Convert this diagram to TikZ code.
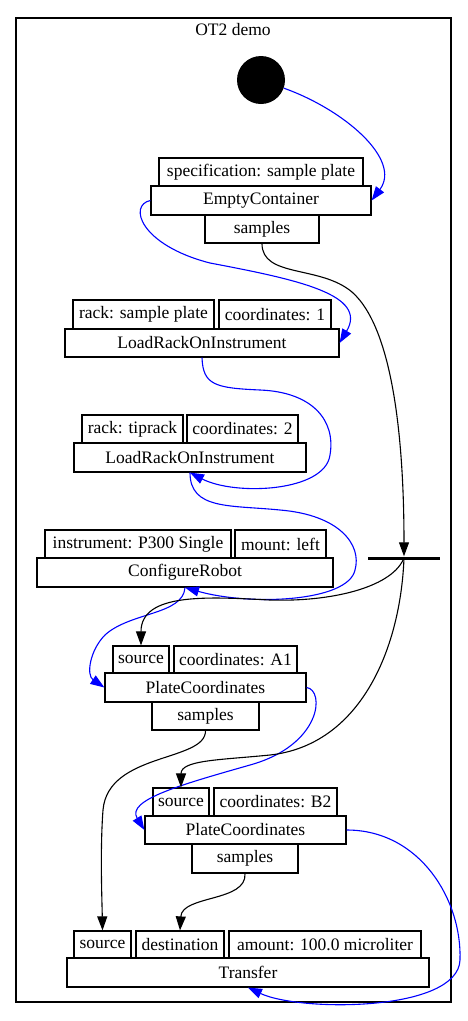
\documentclass[tikz,border=0pt]{standalone}
\usepackage{fontspec}
\setmainfont{Liberation Serif}
\usetikzlibrary{arrows.meta}
\tikzset{
	box/.style={draw, line width=1.2pt, inner sep=0pt, minimum height=28pt, font=\fontsize{17.5}{20}\selectfont},
	flow/.style={draw=blue, line width=1.1pt},
	data/.style={draw=black, line width=1.1pt},
}
\begin{document}
\begin{tikzpicture}[>={Triangle[length=14pt,width=10pt]}, x=1pt, y=-1pt]
		\useasboundingbox (0,0) rectangle (467,1021);
		% Khung ngoai
		\draw[line width=1.2pt] (16,18) rectangle (451,1002);
		\node[font=\fontsize{17.5}{20}\selectfont] (title) at (233,30) {OT2 demo};
		
		% Diem bat dau
		\node[circle, fill=black, minimum size=48pt, inner sep=0pt] (start) at (261,80) {};
		
		% EmptyContainer
		\node[box, minimum width=204pt] (spec) at (261,172) {specification: sample plate};
		\node[box, minimum width=220pt, minimum height=29pt] (empty) at (261,200.5) {EmptyContainer};
		\node[box, minimum width=114pt] (samp1) at (262,229) {samples};
		
		% LoadRackOnInstrument (1)
		\node[box, minimum width=141pt, minimum height=29pt] (rack1) at (143.5,314.5) {rack: sample plate};
		\node[box, minimum width=112pt, minimum height=29pt] (coord1) at (275,314.5) {coordinates: 1};
		\node[box, minimum width=274pt] (load1) at (202,343) {LoadRackOnInstrument};
		
		% LoadRackOnInstrument (2)
		\node[box, minimum width=101pt] (rack2) at (132.5,429) {rack: tiprack};
		\node[box, minimum width=111pt] (coord2) at (242.5,429) {coordinates: 2};
		\node[box, minimum width=232pt, minimum height=29pt] (load2) at (190,457.5) {LoadRackOnInstrument};
		
		% ConfigureRobot
		\node[box, minimum width=186pt] (instr) at (138,544) {instrument: P300 Single};
		\node[box, minimum width=91pt] (mount) at (280.5,544) {mount: left};
		\node[box, minimum width=296pt, minimum height=29pt] (config) at (185,572.5) {ConfigureRobot};
		
		% Thanh re nhanh
		\node[fill=black, minimum width=72pt, minimum height=3pt, inner sep=0pt] (fork) at (404,558) {};
		
		% PlateCoordinates A1
		\node[box, minimum width=56pt, minimum height=27pt] (srcA) at (141,659.5) {source};
		\node[box, minimum width=123pt, minimum height=27pt] (coordA) at (235.5,659.5) {coordinates: A1};
		\node[box, minimum width=201pt, minimum height=29pt] (plateA) at (205.5,687.5) {PlateCoordinates};
		\node[box, minimum width=107pt] (sampA) at (205.5,716) {samples};
		
		% PlateCoordinates B2
		\node[box, minimum width=56pt] (srcB) at (181,802) {source};
		\node[box, minimum width=123pt] (coordB) at (275.5,802) {coordinates: B2};
		\node[box, minimum width=201pt] (plateB) at (245.5,830) {PlateCoordinates};
		\node[box, minimum width=106pt, minimum height=29pt] (sampB) at (245,858.5) {samples};
		
		% Transfer
		\node[box, minimum width=57pt, minimum height=27pt] (tsrc) at (102.5,944.5) {source};
		\node[box, minimum width=88pt, minimum height=27pt] (tdest) at (180,944.5) {destination};
		\node[box, minimum width=192pt, minimum height=27pt] (tamt) at (325,944.5) {amount: 100.0 microliter};
		\node[box, minimum width=362pt, minimum height=29pt] (transfer) at (248,972.5) {Transfer};
		
		% Luong dieu khien (xanh)
		\draw[flow, ->] (start) .. controls (345,110) and (402,160) .. (empty.east);
		\draw[flow, ->] (empty.west) .. controls (128,205) and (140,245) .. (210,263) .. controls (300,280) and (368,295) .. (load1.east);
		\draw[flow, ->] (load1.south) .. controls (203,385) and (215,388) .. (260,390) .. controls (312,392) and (336,420) .. (330,455) .. controls (325,492) and (235,496) .. (load2.south);
		\draw[flow, ->] (load2.south) .. controls (190,510) and (230,505) .. (280,510) .. controls (340,515) and (362,545) .. (355,570) .. controls (348,602) and (250,606) .. (config.south);
		\draw[flow, ->] (config.south) .. controls (183,615) and (130,612) .. (105,635) .. controls (90,650) and (86,675) .. (plateA.west);
		\draw[flow, ->] (plateA.east) .. controls (325,690) and (322,745) .. (250,765) .. controls (180,785) and (126,800) .. (plateB.west);
		\draw[flow, ->] (plateB.east) .. controls (420,830) and (462,900) .. (460,960) .. controls (458,1012) and (300,1012) .. (transfer.south);
		
		% Luong du lieu (den)
		\draw[data, ->] (samp1.south) .. controls (262,278) and (320,265) .. (352,292) .. controls (395,330) and (404,450) .. (fork.north);
		\draw[data, ->] (fork) .. controls (390,588) and (330,602) .. (270,600) .. controls (210,597) and (141,592) .. (srcA.north);
		\draw[data, ->] (fork) .. controls (400,650) and (360,745) .. (270,755) .. controls (220,760) and (181,760) .. (srcB.north);
		\draw[data, ->] (sampA.south) .. controls (206,762) and (108,752) .. (103,810) .. controls (100,850) and (102,900) .. (tsrc.north);
		\draw[data, ->] (sampB.south) .. controls (247,902) and (182,895) .. (tdest.north);
\end{tikzpicture}
\end{document}
